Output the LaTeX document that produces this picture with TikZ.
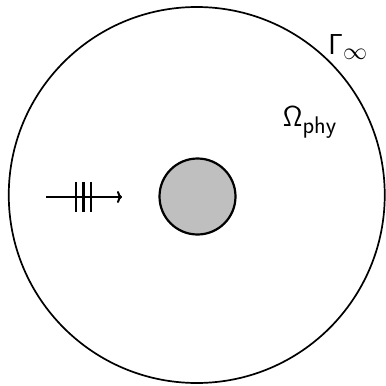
\documentclass[tikz,border=0pt]{standalone}
\usetikzlibrary{arrows.meta}
\begin{document}
\begin{tikzpicture}[x=1pt,y=-1pt,
  outer/.style={circle,draw,line width=1.7pt,minimum size=376pt,inner sep=0pt},
  obstacle/.style={circle,draw,line width=2.2pt,fill=black!25,minimum size=76pt,inner sep=0pt},
  lbl/.style={inner sep=0pt,font=\Huge},
  tick/.style={line width=2.8pt}]
\useasboundingbox (0,0) rectangle (386,386);
\node[outer] (dom) at (196.75,195) {};
\node[obstacle] (obs) at (197.5,196.5) {};
\node[lbl] (gam) at (348,47) {\scalebox{1.16}{$\mathsf{\Gamma}_{\infty}$}};
\node[lbl] (om) at (310,122) {\scalebox{1.16}{$\mathsf{\Omega}_{\mathsf{phy}}$}};
\coordinate (a0) at (46,197);
\coordinate (a1) at (122,197);
\draw[line width=2.6pt,-{To[length=5pt,width=12pt,line width=2pt]}] (a0) -- (a1);
\coordinate (t1a) at (76,182); \coordinate (t1b) at (76,212);
\coordinate (t2a) at (83.5,182); \coordinate (t2b) at (83.5,212);
\coordinate (t3a) at (91,182); \coordinate (t3b) at (91,212);
\draw[tick] (t1a) -- (t1b);
\draw[tick] (t2a) -- (t2b);
\draw[tick] (t3a) -- (t3b);
\end{tikzpicture}
\end{document}
